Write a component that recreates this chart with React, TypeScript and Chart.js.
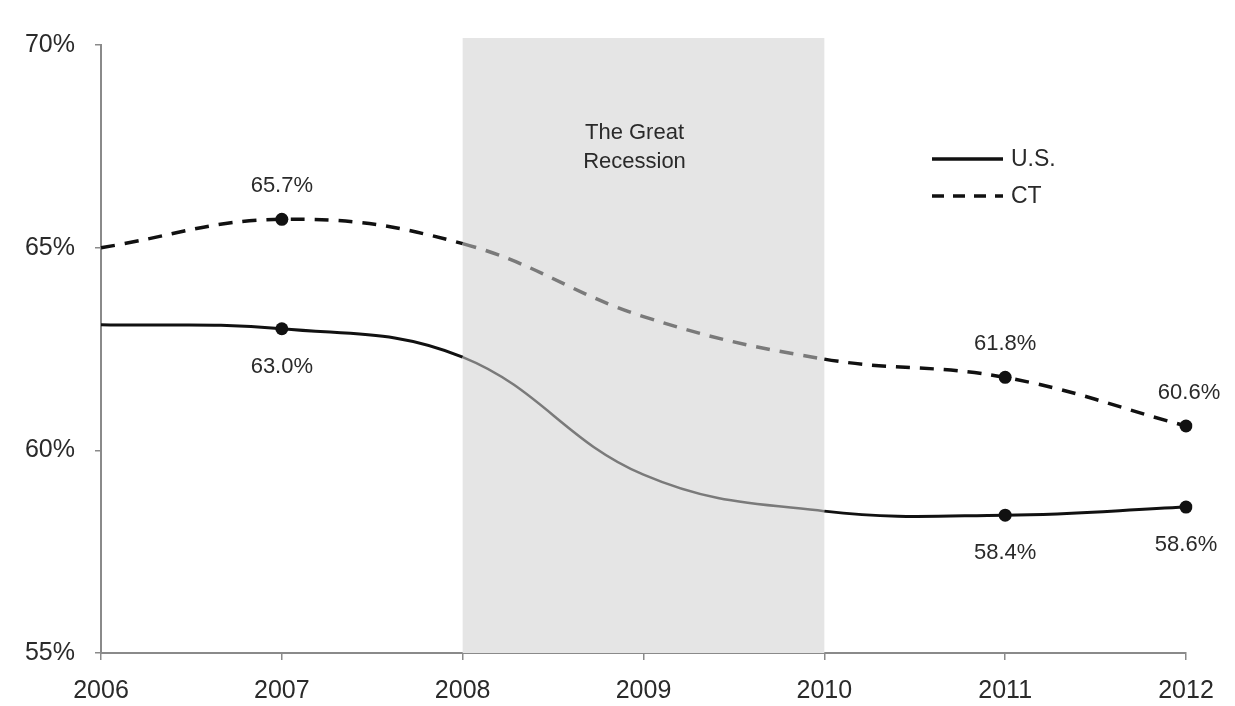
import React, { useEffect, useRef } from "react";
import { Chart, registerables } from "chart.js";

Chart.register(...registerables);

const years = ["2006", "2007", "2008", "2009", "2010", "2011", "2012"];
const usValues = [63.1, 63.0, 62.3, 59.4, 58.5, 58.4, 58.6];
const ctValues = [65.0, 65.7, 65.1, 63.3, 62.25, 61.8, 60.6];
const usLabels = ["", "63.0%", "", "", "", "58.4%", "58.6%"];
const ctLabels = ["", "65.7%", "", "", "", "61.8%", "60.6%"];
const markerRadius = [0, 6.5, 0, 0, 0, 6.5, 6.5];
const yTicks = [55, 60, 65, 70];
const recessionStart = 2;
const recessionEnd = 4;
const recessionText = ["The Great", "Recession"];
const legendNames = ["U.S.", "CT"];

const FONT = "'Liberation Sans', Arial, Helvetica, sans-serif";
const TEXT = "#2a2a2a";
const AXIS = "#8a8a8a";
const INRECESSION = "#7a7a7a";

export default function App() {
  const ref = useRef<HTMLCanvasElement | null>(null);

  useEffect(() => {
    if (!ref.current) return;

    const inRec = (c: any) =>
      c.p0DataIndex >= recessionStart && c.p1DataIndex <= recessionEnd;

    const recessionPlugin = {
      id: "recession",
      beforeDatasetsDraw(chart: any) {
        const { ctx, chartArea, scales } = chart;
        const x0 = scales.x.getPixelForValue(recessionStart);
        const x1 = scales.x.getPixelForValue(recessionEnd);
        ctx.save();
        ctx.fillStyle = "#e5e5e5";
        ctx.fillRect(x0, chartArea.top - 7, x1 - x0, chartArea.bottom - chartArea.top + 7);
        ctx.fillStyle = TEXT;
        ctx.font = `22px ${FONT}`;
        ctx.textAlign = "center";
        ctx.textBaseline = "middle";
        const cx = (x0 + x1) / 2 - 9;
        ctx.fillText(recessionText[0], cx, chartArea.top + 88);
        ctx.fillText(recessionText[1], cx, chartArea.top + 117);
        ctx.restore();
      },
    };

    const labelsPlugin = {
      id: "pointLabels",
      afterDatasetsDraw(chart: any) {
        const { ctx } = chart;
        ctx.save();
        ctx.fillStyle = TEXT;
        ctx.font = `22px ${FONT}`;
        ctx.textAlign = "center";
        ctx.textBaseline = "middle";
        const usMeta = chart.getDatasetMeta(0);
        const ctMeta = chart.getDatasetMeta(1);
        usLabels.forEach((t, i) => {
          if (!t) return;
          const p = usMeta.data[i];
          ctx.fillText(t, p.x, p.y + 38);
        });
        ctLabels.forEach((t, i) => {
          if (!t) return;
          const p = ctMeta.data[i];
          ctx.fillText(t, p.x + (i === 6 ? 3 : 0), p.y - 33);
        });
        // legend
        const lx = 932;
        const ly = [159, 196];
        ctx.strokeStyle = "#111";
        ctx.lineWidth = 3.5;
        ctx.setLineDash([]);
        ctx.beginPath();
        ctx.moveTo(lx, ly[0]);
        ctx.lineTo(lx + 71, ly[0]);
        ctx.stroke();
        ctx.setLineDash([12, 9]);
        ctx.beginPath();
        ctx.moveTo(lx, ly[1]);
        ctx.lineTo(lx + 71, ly[1]);
        ctx.stroke();
        ctx.setLineDash([]);
        ctx.textAlign = "left";
        ctx.font = `23px ${FONT}`;
        ctx.fillText(legendNames[0], lx + 79, ly[0] + 1);
        ctx.fillText(legendNames[1], lx + 79, ly[1] + 1);
        ctx.restore();
      },
    };

    const chart = new Chart(ref.current, {
      type: "line",
      data: {
        labels: years,
        datasets: [
          {
            label: legendNames[0],
            data: usValues,
            borderColor: "#111",
            borderWidth: 3,
            tension: 0.4,
            pointRadius: markerRadius,
            pointBackgroundColor: "#111",
            pointBorderColor: "#111",
            pointBorderWidth: 0,
            segment: {
              borderColor: (c: any) => (inRec(c) ? INRECESSION : "#111"),
              borderWidth: (c: any) => (inRec(c) ? 2.5 : 3),
            },
          },
          {
            label: legendNames[1],
            data: ctValues,
            borderColor: "#111",
            borderWidth: 3.5,
            borderDash: [14, 10],
            tension: 0.4,
            pointRadius: markerRadius,
            pointBackgroundColor: "#111",
            pointBorderColor: "#111",
            pointBorderWidth: 0,
            segment: {
              borderColor: (c: any) => (inRec(c) ? INRECESSION : "#111"),
            },
          },
        ],
      },
      options: {
        responsive: false,
        animation: false,
        layout: { padding: { left: 0, top: 45, right: 49, bottom: 0 } },
        plugins: {
          legend: { display: false },
          tooltip: { enabled: false },
        },
        scales: {
          x: {
            offset: false,
            grid: {
              drawOnChartArea: false,
              drawTicks: true,
              tickLength: 7,
              color: AXIS,
              lineWidth: 1.5,
            },
            border: { color: AXIS, width: 2 },
            ticks: {
              color: TEXT,
              font: { family: FONT, size: 25 },
              padding: 16,
              maxRotation: 0,
              autoSkip: false,
            },
            afterFit: (s: any) => {
              s.height = 53;
            },
          },
          y: {
            min: 55,
            max: 70,
            afterBuildTicks: (s: any) => {
              s.ticks = yTicks.map((v) => ({ value: v }));
            },
            grid: {
              drawOnChartArea: false,
              drawTicks: true,
              tickLength: 6,
              color: AXIS,
              lineWidth: 1.5,
            },
            border: { color: AXIS, width: 2 },
            ticks: {
              color: TEXT,
              font: { family: FONT, size: 25 },
              padding: 20,
              callback: (v: any) => `${v}%`,
            },
            afterFit: (s: any) => {
              s.width = 101;
            },
          },
        },
      },
      plugins: [recessionPlugin, labelsPlugin],
    });

    return () => chart.destroy();
  }, []);

  return (
    <div style={{ position: "fixed", left: 0, top: 0, width: 1235, height: 706, background: "#fff" }}>
      <canvas ref={ref} width={1235} height={706} />
    </div>
  );
}
